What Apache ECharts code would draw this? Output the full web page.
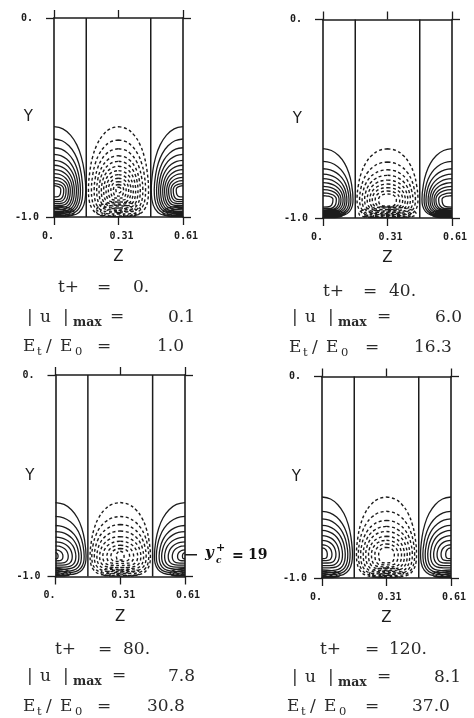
<!DOCTYPE html>
<html><head><meta charset="utf-8">
<style>html,body{margin:0;padding:0;background:#fff}#c{width:474px;height:718px}</style>
<script src="https://cdn.jsdelivr.net/npm/echarts@6/dist/echarts.min.js"></script>
</head><body><div id="c"></div>
<script>
// ---- tick labels and captions ----
const xTickLabels = ['0.', '0.31', '0.61'];
const yTickLabels = ['-1.0', '0.'];
const timeValues = ['0.', '40.', '80.', '120.'];
const uMaxValues = ['0.1', '6.0', '7.8', '8.1'];
const energyValues = ['1.0', '16.3', '30.8', '37.0'];
// ---- domain and zero contours ----
const zMax = 0.61;
const zCentre = 0.305;
const zeroContourZ = [0.1525, 0.4575];
const criticalLayerY = [-0.892, -0.892];
const criticalLayerZ = [0.61, 0.667];
// ---- contour outline: fraction of width, fraction above (+) / below (-) waist ----
const shapeZ = [0, 0.28, 0.52, 0.72, 0.86, 0.95, 1.0, 0.98, 0.88, 0.70, 0.40, 0];
const shapeY = [1, 0.965, 0.865, 0.71, 0.52, 0.3, 0, -0.38, -0.72, -0.92, -0.99, -1];
// ---- t+=0 ----
const p1Waist = -0.862;
const p1SolidTop = [-0.546,-0.608,-0.652,-0.685,-0.715,-0.740,-0.762,-0.782,-0.801,-0.817,-0.832,-0.843];
const p1SolidBottom = [-0.997,-0.990,-0.983,-0.977,-0.970,-0.961,-0.953,-0.943,-0.933,-0.923,-0.913,-0.899];
const p1SolidWidth = [0.150,0.136,0.125,0.115,0.106,0.096,0.087,0.077,0.068,0.057,0.046,0.032];
const p1DashTop = [-0.546,-0.613,-0.657,-0.692,-0.720,-0.745,-0.767,-0.787,-0.805,-0.822,-0.837,-0.850];
const p1DashBottom = [-0.995,-0.985,-0.975,-0.965,-0.955,-0.945,-0.935,-0.925,-0.915,-0.905,-0.895,-0.878];
const p1DashWidth = [0.142,0.128,0.115,0.103,0.092,0.081,0.070,0.059,0.048,0.036,0.024,0.012];
const p1CornerTop = [-0.945,-0.958,-0.970,-0.980];
const p1CornerWidth = [0.095,0.075,0.058,0.040];
const p1FloorTop = [-0.925,-0.940,-0.955,-0.967,-0.978];
const p1FloorWidth = [0.105,0.085,0.065,0.045,0.025];
// ---- t+=40 ----
const p2Waist = -0.905;
const p2SolidTop = [-0.651,-0.715,-0.752,-0.779,-0.802,-0.822,-0.841,-0.857,-0.874,-0.888];
const p2SolidBottom = [-0.992,-0.988,-0.983,-0.978,-0.973,-0.968,-0.963,-0.958,-0.953,-0.945];
const p2SolidWidth = [0.142,0.132,0.123,0.113,0.104,0.095,0.085,0.076,0.063,0.047];
const p2DashTop = [-0.651,-0.718,-0.757,-0.785,-0.809,-0.829,-0.847,-0.864,-0.879];
const p2DashBottom = [-0.992,-0.985,-0.978,-0.971,-0.964,-0.957,-0.950,-0.945,-0.940];
const p2DashWidth = [0.144,0.132,0.120,0.108,0.096,0.084,0.072,0.058,0.042];
const p2CornerTop = [-0.955,-0.965,-0.975,-0.985];
const p2CornerWidth = [0.095,0.080,0.060,0.040];
const p2FloorTop = [-0.945,-0.958,-0.970,-0.980,-0.988];
const p2FloorWidth = [0.135,0.115,0.095,0.070,0.045];
// ---- t+=80 ----
const p3Waist = -0.898;
const p3SolidTop = [-0.633,-0.702,-0.747,-0.777,-0.805,-0.828,-0.848,-0.868,-0.882];
const p3SolidBottom = [-0.992,-0.983,-0.975,-0.964,-0.954,-0.944,-0.934,-0.922,-0.912];
const p3SolidWidth = [0.144,0.135,0.122,0.110,0.096,0.079,0.060,0.035,0.012];
const p3DashTop = [-0.633,-0.702,-0.742,-0.774,-0.802,-0.825,-0.845,-0.861,-0.875];
const p3DashBottom = [-0.995,-0.985,-0.975,-0.965,-0.955,-0.945,-0.935,-0.925,-0.918];
const p3DashWidth = [0.142,0.134,0.122,0.110,0.097,0.082,0.063,0.044,0.018];
const p3CornerTop = [-0.960,-0.970,-0.980,-0.988];
const p3CornerWidth = [0.070,0.055,0.040,0.025];
const p3FloorTop = [-0.955,-0.968,-0.978,-0.988];
const p3FloorWidth = [0.090,0.070,0.050,0.030];
// ---- t+=120 ----
const p4Waist = -0.881;
const p4SolidTop = [-0.598,-0.669,-0.707,-0.739,-0.764,-0.790,-0.813,-0.835,-0.851];
const p4SolidBottom = [-0.992,-0.983,-0.975,-0.964,-0.950,-0.939,-0.926,-0.914,-0.904];
const p4SolidWidth = [0.144,0.133,0.122,0.110,0.097,0.082,0.066,0.047,0.025];
const p4DashTop = [-0.598,-0.669,-0.714,-0.744,-0.769,-0.793,-0.813,-0.831,-0.848];
const p4DashBottom = [-0.995,-0.988,-0.980,-0.972,-0.963,-0.954,-0.945,-0.935,-0.925];
const p4DashWidth = [0.142,0.133,0.122,0.110,0.098,0.085,0.071,0.055,0.037];
const p4CornerTop = [-0.960,-0.970,-0.980,-0.988];
const p4CornerWidth = [0.085,0.070,0.050,0.030];
const p4FloorTop = [-0.950,-0.965,-0.977,-0.987];
const p4FloorWidth = [0.080,0.065,0.045,0.025];

const panels = [
 {w:p1Waist,st:p1SolidTop,sb:p1SolidBottom,sw:p1SolidWidth,dt:p1DashTop,db:p1DashBottom,dw:p1DashWidth,ct:p1CornerTop,cw:p1CornerWidth,ft:p1FloorTop,fw:p1FloorWidth},
 {w:p2Waist,st:p2SolidTop,sb:p2SolidBottom,sw:p2SolidWidth,dt:p2DashTop,db:p2DashBottom,dw:p2DashWidth,ct:p2CornerTop,cw:p2CornerWidth,ft:p2FloorTop,fw:p2FloorWidth},
 {w:p3Waist,st:p3SolidTop,sb:p3SolidBottom,sw:p3SolidWidth,dt:p3DashTop,db:p3DashBottom,dw:p3DashWidth,ct:p3CornerTop,cw:p3CornerWidth,ft:p3FloorTop,fw:p3FloorWidth},
 {w:p4Waist,st:p4SolidTop,sb:p4SolidBottom,sw:p4SolidWidth,dt:p4DashTop,db:p4DashBottom,dw:p4DashWidth,ct:p4CornerTop,cw:p4CornerWidth,ft:p4FloorTop,fw:p4FloorWidth}
];

// ---- layout (pixels) ----
const grids = [
 {left:54,top:18,width:129,height:199},
 {left:323,top:19.5,width:129,height:198.5},
 {left:55.5,top:375,width:129.5,height:201.5},
 {left:322,top:376.5,width:129,height:201.5},
 {left:185,top:375,width:12,height:201.5}
];
const ink = '#1c1c1c';
const capFace = '"DejaVu Serif"';
const captionX = [
 {t:58,te:97,tv:133,u:27,ue:110,uv:168,e:23,ee:97,ev:157},
 {t:323,te:363,tv:389,u:292,ue:377,uv:435,e:289,ee:365,ev:414},
 {t:55,te:98,tv:123,u:27,ue:112,uv:168,e:23,ee:97,ev:147},
 {t:320,te:365,tv:389,u:292,ue:377,uv:434,e:287,ee:365,ev:412}
];
const captionY = [[288,318,347],[292,318,348],[650,677,707],[650,678,707]];
const xTickPad = [['', '  '], [' ', ''], [' ', '']];

function half(top,bottom,width,waist){
  return shapeZ.map((f,i)=>{
    const g=shapeY[i];
    return [f*width, g>=0 ? waist+g*(top-waist) : waist+(-g)*(bottom-waist)];
  });
}
const BREAK=['-','-'];
function solidData(p){
  const out=[];
  const add=(top,bot,wid,waist)=>{
    const h=half(top,bot,wid,waist);
    h.forEach(q=>out.push(q)); out.push(BREAK);
    h.forEach(q=>out.push([zMax-q[0],q[1]])); out.push(BREAK);
  };
  p.st.forEach((t,i)=>add(t,p.sb[i],p.sw[i],p.w));
  p.ct.forEach((t,i)=>add(t,-0.998,p.cw[i],(t-0.998)/2-0.005));
  return out;
}
function dashData(p){
  const out=[];
  const add=(top,bot,wid,waist)=>{
    const h=half(top,bot,wid,waist);
    h.forEach(q=>out.push([zCentre+q[0],q[1]]));
    h.slice().reverse().forEach(q=>out.push([zCentre-q[0],q[1]]));
    out.push(BREAK);
  };
  p.dt.forEach((t,i)=>add(t,p.db[i],p.dw[i],p.w));
  p.ft.forEach((t,i)=>add(t,-0.998,p.fw[i],(t-0.998)/2-0.005));
  return out;
}

const xAxis=[],yAxis=[],series=[];
const labelStyle={color:ink,fontFamily:'"DejaVu Sans Mono"',fontWeight:'bold',fontSize:10};
const nameStyle={color:ink,fontFamily:'"DejaVu Sans"',fontSize:15};
panels.forEach((p,i)=>{
  const tick={show:true,length:8,inside:false,lineStyle:{color:ink,width:1.3}};
  const line={show:true,onZero:false,lineStyle:{color:ink,width:1.6}};
  xAxis.push({gridIndex:i,type:'value',position:'bottom',min:0,max:zMax,interval:zCentre,
    axisLine:line,axisTick:tick,splitLine:{show:false},
    name:'Z',nameLocation:'middle',nameGap:33,nameMoveOverlap:false,nameTextStyle:nameStyle,
    axisLabel:Object.assign({show:true,margin:14,hideOverlap:false,
      formatter:(v,idx)=>xTickPad[idx][0]+xTickLabels[idx]+xTickPad[idx][1]},labelStyle)});
  xAxis.push({gridIndex:i,type:'value',position:'top',min:0,max:zMax,interval:zCentre,
    axisLine:line,axisTick:tick,axisLabel:{show:false},splitLine:{show:false}});
  yAxis.push({gridIndex:i,type:'value',position:'left',min:-1,max:0,interval:1,
    axisLine:line,axisTick:tick,splitLine:{show:false},
    name:'Y',nameLocation:'middle',nameRotate:0,nameGap:21,nameMoveOverlap:false,nameTextStyle:nameStyle,
    axisLabel:Object.assign({show:true,margin:27,align:'center',formatter:(v,idx)=>yTickLabels[idx]},labelStyle)});
  yAxis.push({gridIndex:i,type:'value',position:'right',min:-1,max:0,interval:1,
    axisLine:line,axisTick:tick,axisLabel:{show:false},splitLine:{show:false}});
  const xi=i*2, yi=i*2;
  zeroContourZ.forEach(z=>series.push({type:'line',xAxisIndex:xi,yAxisIndex:yi,showSymbol:false,silent:true,
    data:[[z,-1],[z,0]],lineStyle:{color:ink,width:1.5}}));
  series.push({type:'line',xAxisIndex:xi,yAxisIndex:yi,showSymbol:false,silent:true,smooth:0.4,connectNulls:false,
    data:solidData(p),lineStyle:{color:ink,width:1.3}});
  series.push({type:'line',xAxisIndex:xi,yAxisIndex:yi,showSymbol:false,silent:true,smooth:0.4,connectNulls:false,
    data:dashData(p),lineStyle:{color:ink,width:1.4,type:[3,2.5]}});
});
// hidden axes continuing t+=80 to the right, carrying the critical-layer pointer
xAxis.push({gridIndex:4,type:'value',show:false,min:criticalLayerZ[0],max:criticalLayerZ[1]});
yAxis.push({gridIndex:4,type:'value',show:false,min:-1,max:0});
series.push({type:'line',xAxisIndex:8,yAxisIndex:8,showSymbol:false,silent:true,
  data:criticalLayerZ.map((z,i)=>[z,criticalLayerY[i]]),lineStyle:{color:ink,width:1.5}});

const txt=(text,x,y,font,extra)=>({type:'text',silent:true,style:Object.assign({text,x,y,font,fill:'#2a2a2a',textAlign:'left',textVerticalAlign:'middle'},extra||{})});
const graphic=[];
const big='17px '+capFace, sub='11.5px '+capFace, maxF='bold 12.5px '+capFace;
panels.forEach((p,i)=>{
  const c=captionX[i],[y1,y2,y3]=captionY[i];
  graphic.push(txt('t+',c.t,y1,big),txt('=',c.te,y1,big),txt(timeValues[i],c.tv,y1,big));
  graphic.push(txt('|',c.u,y2,big),txt('u',c.u+13,y2,big),txt('|',c.u+36,y2,big),
    txt('max',c.u+46,y2+5,maxF),txt('=',c.ue,y2-1,big),txt(uMaxValues[i],c.uv,y2,big));
  graphic.push(txt('E',c.e,y3,big),txt('t',c.e+14,y3+5,sub),txt('/',c.e+23,y3,big),
    txt('E',c.e+37,y3,big),txt('0',c.e+52,y3+5,sub),txt('=',c.ee,y3,big),txt(energyValues[i],c.ev,y3,big));
});
graphic.push(
  txt('y',205,553,'italic bold 15px '+capFace,{fill:'#111'}),
  txt('+',216,548,'bold 11px '+capFace,{fill:'#111'}),
  txt('c',216,561,'italic bold 9px '+capFace,{fill:'#111'}),
  txt('=',232,556,'bold 14px '+capFace,{fill:'#111'}),
  txt('19',248,555,'bold 14px '+capFace,{fill:'#111'})
);

const chart=echarts.init(document.getElementById('c'),null,{renderer:'canvas'});
chart.setOption({animation:false,backgroundColor:'#fff',tooltip:{show:false},
  grid:grids.map(g=>Object.assign({containLabel:false},g)),
  xAxis,yAxis,series,graphic});
</script></body></html>
